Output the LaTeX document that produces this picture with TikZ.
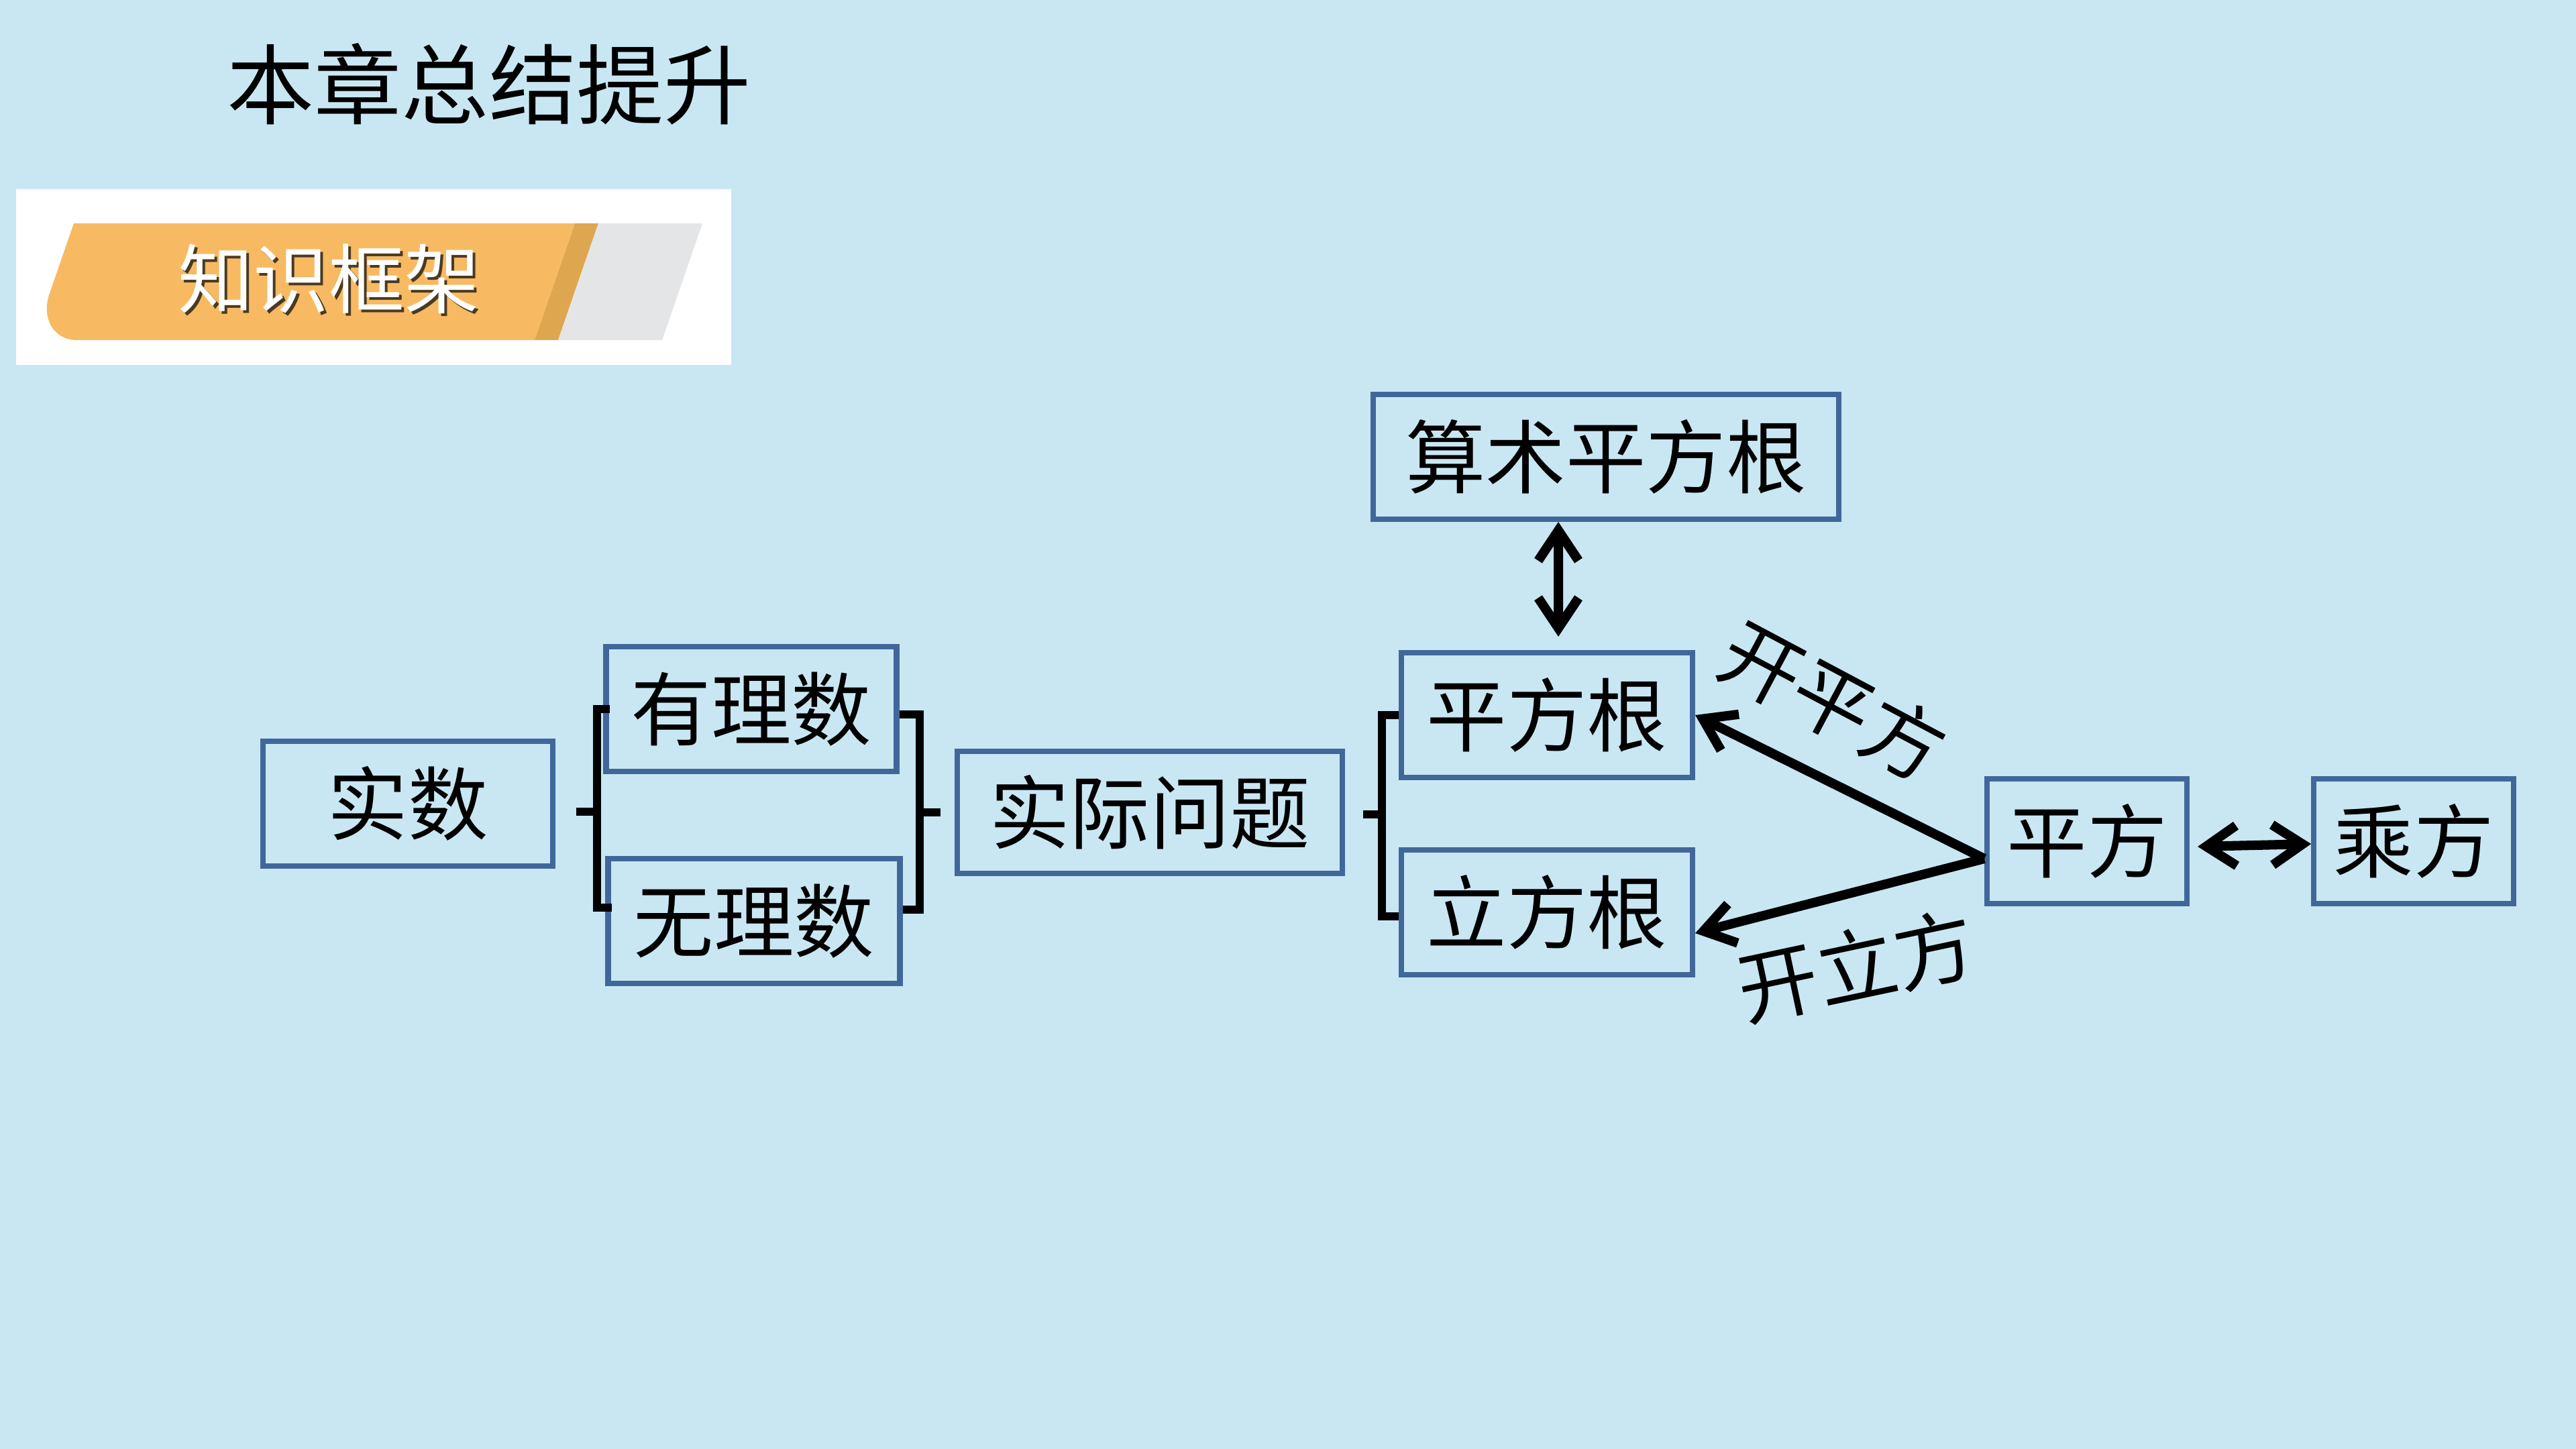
\documentclass[tikz,border=0pt]{standalone}
\usepackage{fontspec}
\setmainfont{Noto Sans CJK SC}
\usetikzlibrary{positioning, arrows.meta}
\definecolor{slideBlue}{HTML}{C9E7F3}
\definecolor{boxBlue}{HTML}{41679A}
\definecolor{tabOrange}{HTML}{F7BA62}
\definecolor{tabDark}{HTML}{DFA650}
\definecolor{tabGrey}{HTML}{E4E5E7}
\definecolor{shadowBrown}{HTML}{4A3A22}

\begin{document}
\begin{tikzpicture}[
  box/.style={draw=boxBlue, line width=2.3pt, inner sep=0pt,
    minimum height=1.86cm, font=\fontsize{34}{40}\selectfont},
  lbl/.style={inner sep=0pt, font=\fontsize{34}{40}\selectfont},
  brk/.style={black, line width=3.6pt},
  arr/.style={-{Straight Barb[length=4.5mm, width=6mm]}, black, line width=4pt},
  dbl/.style={{Straight Barb[length=4.5mm, width=6mm]}-{Straight Barb[length=4.5mm, width=6mm]},
    black, line width=4pt}]

% slide background and header
\fill[slideBlue] (0,0) rectangle (38.4,-21.6);
\node[inner sep=0pt, font=\fontsize{37}{44}\selectfont] (title) at (7.29,-1.25) {本章总结提升};
\fill[white] (0.24,-2.82) rectangle (10.90,-5.44);
\fill[tabOrange] (1.10,-3.33) -- (8.57,-3.33) -- (7.97,-5.07) -- (1.15,-5.07)
  .. controls (0.80,-5.07) and (0.62,-4.75) .. (0.73,-4.40) -- cycle;
\fill[tabDark] (8.57,-3.33) -- (8.92,-3.33) -- (8.32,-5.07) -- (7.97,-5.07) -- cycle;
\fill[tabGrey] (8.92,-3.33) -- (10.47,-3.33) -- (9.87,-5.07) -- (8.32,-5.07) -- cycle;
\node[inner sep=0pt, text=shadowBrown, font=\fontsize{32}{38}\selectfont] (tabshade) at (4.94,-4.20) {知识框架};
\node[inner sep=0pt, text=white, font=\fontsize{32}{38}\selectfont] (tab) at (4.90,-4.16) {知识框架};

% boxes
\node[box, minimum width=4.32cm] (shishu) at (6.08,-11.98) {实数};
\node[box, minimum width=4.33cm] (youli) at (11.20,-10.57) {有理数};
\node[box, minimum width=4.35cm] (wuli) at (11.24,-13.73) {无理数};
\node[box, minimum width=5.74cm, minimum height=1.82cm] (wenti) at (17.14,-12.11) {实际问题};
\node[box, minimum width=6.94cm] (suanshu) at (23.94,-6.81) {算术平方根};
\node[box, minimum width=4.34cm] (pfg) at (23.06,-10.66) {平方根};
\node[box, minimum width=4.34cm, below=1.0cm of pfg] (lfg) {立方根};
\node[box, minimum width=2.98cm] (pf) at (31.11,-12.54) {平方};
\node[box, minimum width=2.98cm, right=1.81cm of pf] (cf) {乘方};

% brackets
\coordinate (b1) at (8.90,-12.10);
\draw[brk] ([xshift=1mm]youli.west) -| (b1) |- ([xshift=1mm,yshift=2mm]wuli.west);
\draw[brk] (b1) -- ++(-0.31,0);
\coordinate (b2) at (13.71,-12.11);
\draw[brk] ([yshift=-0.8mm]youli.east) -| (b2) |- ([yshift=1.7mm]wuli.east);
\draw[brk] (b2) -- ++(0.31,0);
\coordinate (b3) at (20.60,-12.14);
\draw[brk] (pfg.west) -| (b3) |- ([yshift=-0.6mm]lfg.west);
\draw[brk] (b3) -- ++(-0.28,0);

% arrows
\coordinate (fork) at ([yshift=-2.6mm]pf.west);
\draw[arr] (fork) -- (pfg.east);
\draw[arr] (fork) -- ([yshift=-3.1mm]lfg.east);
\draw[dbl] ([xshift=-0.71cm]suanshu.south) -- ([xshift=0.17cm,yshift=2mm]pfg.north);
\draw[dbl] ([xshift=1.2mm,yshift=-0.8mm]pf.east) -- ([yshift=-0.4mm]cf.west);

\node[lbl, rotate=-28] (kpf) at (27.33,-10.45) {开平方};
\node[lbl, rotate=12] (klf) at (27.67,-14.40) {开立方};
\end{tikzpicture}
\end{document}
